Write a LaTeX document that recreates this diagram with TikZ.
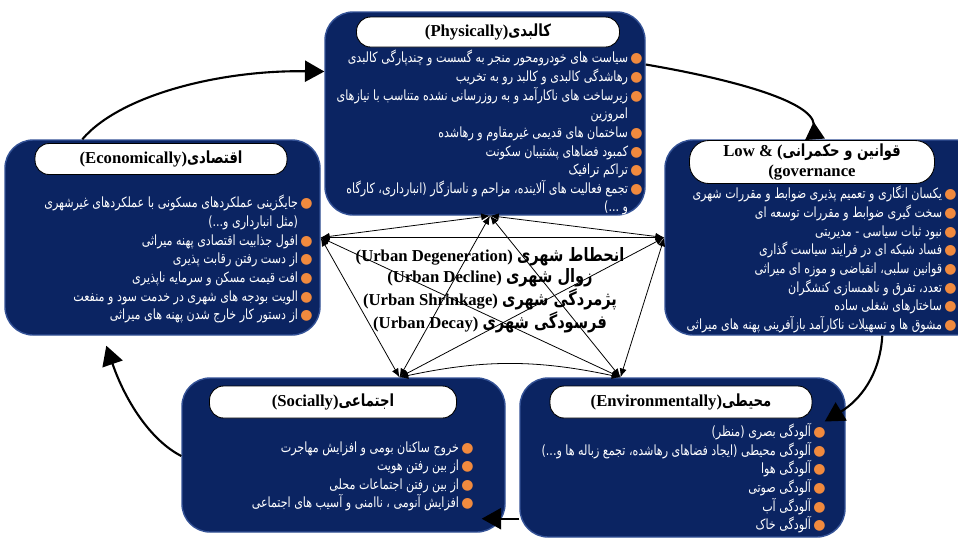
\documentclass[tikz,border=0pt]{standalone}
\usepackage{fontspec}
\setmainfont{Liberation Serif}
\newfontfamily\arabicfont[Script=Arabic, FakeStretch=0.79]{DejaVu Sans}
\newfontfamily\dotfont{DejaVu Sans}
\TeXXeTstate=1
\usepackage{xcolor}
\usepackage{tikz}
\usetikzlibrary{positioning,calc,fit,arrows.meta}

\definecolor{boxblue}{RGB}{11,36,98}
\definecolor{boxedge}{RGB}{52,82,150}
\definecolor{dotorange}{RGB}{241,138,62}

\newcommand{\fa}[1]{{\arabicfont\beginR #1\endR}}
\newcommand{\fab}[1]{{\fontsize{10.5}{12}\selectfont\fa{#1}}}
\newcommand{\itm}[1]{\fa{#1}\,{\dotfont\color{dotorange}●}}
\newcommand{\cnt}[1]{\fa{#1}\,\phantom{\dotfont ●}}

\tikzset{
	panel/.style={draw=boxedge, fill=boxblue, line width=0.8pt, rounded corners=16pt, inner sep=0pt},
	pill/.style={draw=black, fill=white, line width=0.5pt, rounded corners=8pt, inner sep=0pt, align=center, font=\bfseries\fontsize{9.5}{11}\selectfont},
	itemlist/.style={anchor=north east, inner sep=0pt, align=right, text=white, font=\arabicfont\fontsize{8}{10.6}\selectfont},
	netline/.style={{Latex[length=5pt,width=4pt]}-{Latex[length=5pt,width=4pt]}, line width=0.45pt},
	flow/.style={-{Triangle[length=11pt,width=12pt]}, line width=1.2pt}
}

\begin{document}
\begin{tikzpicture}[x=0.02cm, y=-0.02cm]
	\useasboundingbox (0,0) rectangle (958,539);

	% panels
	\node[panel, fit={(325,12) (645,215)}] (phys) {};
	\node[panel, fit={(665,140) (985,335)}] (law) {};
	\node[panel, fit={(5,140) (320,335)}] (econ) {};
	\node[panel, fit={(182,378) (505,532)}] (soc) {};
	\node[panel, fit={(520,378) (845,537)}] (env) {};

	\node[pill, minimum width=5.26cm, minimum height=0.6cm] (physT) at (488,32) {(Physically)\fa{کالبدی}};
	\node[pill, rounded corners=11pt, minimum width=4.9cm, minimum height=0.86cm] (lawT) at (812,162) {Low \& (\fa{قوانین و حکمرانی}\\(governance};
	\node[pill, minimum width=5.04cm, minimum height=0.62cm] (econT) at (161,159) {(Economically)\fa{اقتصادی}};
	\node[pill, minimum width=4.94cm, minimum height=0.64cm] (socT) at (333,402) {(Socially)\fa{اجتماعی}};
	\node[pill, minimum width=5.24cm, minimum height=0.64cm] (envT) at (681,402) {(Environmentally)\fa{محیطی}};

	\node[itemlist] (physL) at (643,50) {
		\itm{سیاست های خودرومحور منجر به گسست و چندپارگی کالبدی}\\
		\itm{رهاشدگی کالبدی و کالبد رو به تخریب}\\
		\itm{زیرساخت های ناکارآمد و به روزرسانی نشده متناسب با نیازهای}\\
		\cnt{امروزین}\\
		\itm{ساختمان های قدیمی غیرمقاوم و رهاشده}\\
		\itm{کمبود فضاهای پشتیبان سکونت}\\
		\itm{تراکم ترافیک}\\
		\itm{تجمع فعالیت های آلاینده، مزاحم و ناسازگار (انبارداری، کارگاه}\\
		\cnt{و ...)}
	};
	\node[itemlist] (lawL) at (957,186) {
		\itm{یکسان انگاری و تعمیم پذیری ضوابط و مقررات شهری}\\
		\itm{سخت گیری ضوابط و مقررات توسعه ای}\\
		\itm{نبود ثبات سیاسی - مدیریتی}\\
		\itm{فساد شبکه ای در فرایند سیاست گذاری}\\
		\itm{قوانین سلبی، انقباضی و موزه ای میراثی}\\
		\itm{تعدد، تفرق و ناهمسازی کنشگران}\\
		\itm{ساختارهای شغلی ساده}\\
		\itm{مشوق ها و تسهیلات ناکارآمد بازآفرینی پهنه های میراثی}
	};
	\node[itemlist] (econL) at (313,195) {
		\itm{جایگزینی عملکردهای مسکونی با عملکردهای غیرشهری}\\
		\cnt{(مثل انبارداری و...)}\\
		\itm{افول جذابیت اقتصادی پهنه میراثی}\\
		\itm{از دست رفتن رقابت پذیری}\\
		\itm{افت قیمت مسکن و سرمایه ناپذیری}\\
		\itm{الویت بودجه های شهری در خدمت سود و منفعت}\\
		\itm{از دستور کار خارج شدن پهنه های میراثی}
	};
	\node[itemlist] (socL) at (474,441) {
		\itm{خروج ساکنان بومی و افزایش مهاجرت}\\
		\itm{از بین رفتن هویت}\\
		\itm{از بین رفتن اجتماعات محلی}\\
		\itm{افزایش آنومی ، ناامنی و آسیب های اجتماعی}
	};
	\node[itemlist] (envL) at (826,423) {
		\itm{آلودگی بصری (منظر)}\\
		\itm{آلودگی محیطی (ایجاد فضاهای رهاشده، تجمع زباله ها و...)}\\
		\itm{آلودگی هوا}\\
		\itm{آلودگی صوتی}\\
		\itm{آلودگی آب}\\
		\itm{آلودگی خاک}
	};

	\coordinate (nT) at ($(phys.south)+(5,0)$);
	\coordinate (nL) at (econ.east);
	\coordinate (nR) at (law.west);
	\coordinate (nBL) at ($(soc.north)+(56,0)$);
	\coordinate (nBR) at ($(env.north)+(-62,0)$);
	\foreach \a/\b in {nT/nL, nT/nR, nL/nR, nL/nBL, nL/nBR, nT/nBL, nT/nBR, nR/nBL, nR/nBR}
		\draw[netline] (\a) -- (\b);
	\draw[netline] (nBL) to[bend left=12] (nBR);

	\node[font=\bfseries\fontsize{9.5}{12}\selectfont, align=center] (core) at (490,290) {
		(Urban Degeneration) \fab{انحطاط شهری}\\
		(Urban Decline) \fab{زوال شهری}\\
		(Urban Shrinkage) \fab{پژمردگی شهری}\\
		(Urban Decay) \fab{فرسودگی شهری}
	};

	\draw[flow] ($(econ.north west)+(78,0)$) .. controls (120,95) and (220,70) .. ($(phys.west)+(0,-42)$);
	\draw[flow, -{Triangle[reversed, length=10pt, width=11pt]}] ($(phys.east)+(0,-49)$) .. controls (725,78) and (812,100) .. ($(law.north)+(-10,0)$);
	\draw[flow] ($(law.south west)+(218,0)$) .. controls (880,375) and (860,400) .. ($(env.east)+(-21,-36)$);
	\draw[flow] ($(env.south west)+(0,-19)$) -- ($(soc.south east)+(-24,-14)$);
	\draw[flow] ($(soc.west)+(0,1)$) .. controls (150,440) and (125,400) .. ($(econ.south west)+(102,10)$);
\end{tikzpicture}
\end{document}
